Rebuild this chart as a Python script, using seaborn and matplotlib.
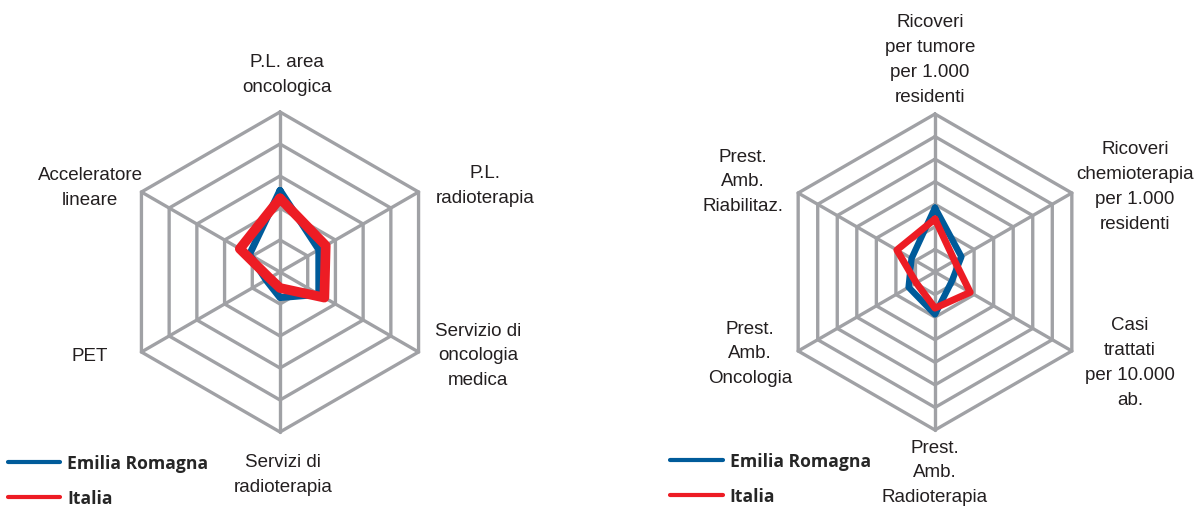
import numpy as np
import matplotlib
matplotlib.use("Agg")
import matplotlib.pyplot as plt
import seaborn as sns
from matplotlib.lines import Line2D

# chart values
left_labels = ["P.L. area\noncologica", "P.L.\nradioterapia", "Servizio di\noncologia\nmedica",
               "Servizi di\nradioterapia", "PET", "Acceleratore\nlineare"]
left_emilia = [2.55, 1.4, 1.4, 0.8, 0.5, 1.1]
left_italia = [2.3, 1.65, 1.6, 0.5, 0.38, 1.45]
left_rings = 5

right_labels = ["Ricoveri\nper tumore\nper 1.000\nresidenti",
                "Ricoveri\nchemioterapia\nper 1.000\nresidenti",
                "Casi\ntrattati\nper 10.000\nab.",
                "Prest.\nAmb.\nRadioterapia",
                "Prest.\nAmb.\nOncologia",
                "Prest.\nAmb.\nRiabilitaz."]
right_emilia = [2.85, 1.35, 0.85, 1.88, 1.35, 1.2]
right_italia = [2.35, 1.0, 1.8, 1.6, 0.96, 1.95]
right_rings = 7

series_names = ["Emilia Romagna", "Italia"]

BLUE = "#005b9a"
RED = "#ed1c24"
GRID = "#a0a1a5"

W, H = 1195, 510

sns.set_style("white")
plt.rcParams["font.family"] = ["Liberation Sans", "DejaVu Sans"]


def to_xy(values):
    # clockwise from the top, closing the polygon
    n = len(values)
    ang = np.pi / 2 - 2 * np.pi * np.arange(n) / n
    v = np.append(values, values[0])
    a = np.append(ang, ang[0])
    return v * np.cos(a), v * np.sin(a)


def radar(fig, cx, cy, radius, rings, labels, emilia, italia, lw_blue, lw_red, label_pos):
    # axes placed in pixel space so the hexagon lands where it does in the reference
    half = 210
    ax = fig.add_axes([(cx - half) / W, (H - cy - half) / H, 2 * half / W, 2 * half / H])
    lim = half / (radius / rings)
    ax.set_xlim(-lim, lim)
    ax.set_ylim(-lim, lim)
    ax.set_aspect("equal")
    ax.axis("off")

    n = len(labels)
    for r in range(1, rings + 1):
        gx, gy = to_xy([r] * n)
        ax.plot(gx, gy, color=GRID, lw=2.4, zorder=1, solid_joinstyle="miter")
    ox, oy = to_xy([rings] * n)
    for i in range(n):
        ax.plot([0, ox[i]], [0, oy[i]], color=GRID, lw=2.4, zorder=1)

    bx, by = to_xy(emilia)
    sns.lineplot(x=bx, y=by, sort=False, estimator=None, color=BLUE, lw=lw_blue,
                 ax=ax, zorder=3, solid_joinstyle="round")
    rx, ry = to_xy(italia)
    sns.lineplot(x=rx, y=ry, sort=False, estimator=None, color=RED, lw=lw_red,
                 ax=ax, zorder=4, solid_joinstyle="round")

    for text, (px, py) in zip(labels, label_pos):
        fig.text(px / W, 1 - py / H, text, ha="center", va="center", fontsize=13.5,
                 color="#231f20", linespacing=1.6)
    return ax


fig = plt.figure(figsize=(W / 100, H / 100), dpi=100)

radar(fig, 280, 273, 160, left_rings, left_labels, left_emilia, left_italia, 5, 7,
      [(287, 75), (485, 186), (478, 356), (283, 475), (90, 357), (90, 188)])
radar(fig, 935, 273, 158, right_rings, right_labels, right_emilia, right_italia, 4.6, 5,
      [(930, 60), (1135, 187), (1130, 363), (935, 473), (750, 354), (743, 182)])

# legends, one under each chart
for lx, ly in [(8, 455), (670, 453)]:
    handles = [Line2D([], [], color=BLUE, lw=3), Line2D([], [], color=RED, lw=3)]
    fig.legend(handles, series_names, loc="upper left",
               bbox_to_anchor=(lx / W, 1 - ly / H), frameon=False,
               prop={"family": ["Open Sans", "DejaVu Sans"], "weight": "bold", "size": 12.6},
               handlelength=3.0, handletextpad=0.4, labelspacing=1.0,
               borderaxespad=0, borderpad=0)

fig.savefig("out.png", dpi=100)
